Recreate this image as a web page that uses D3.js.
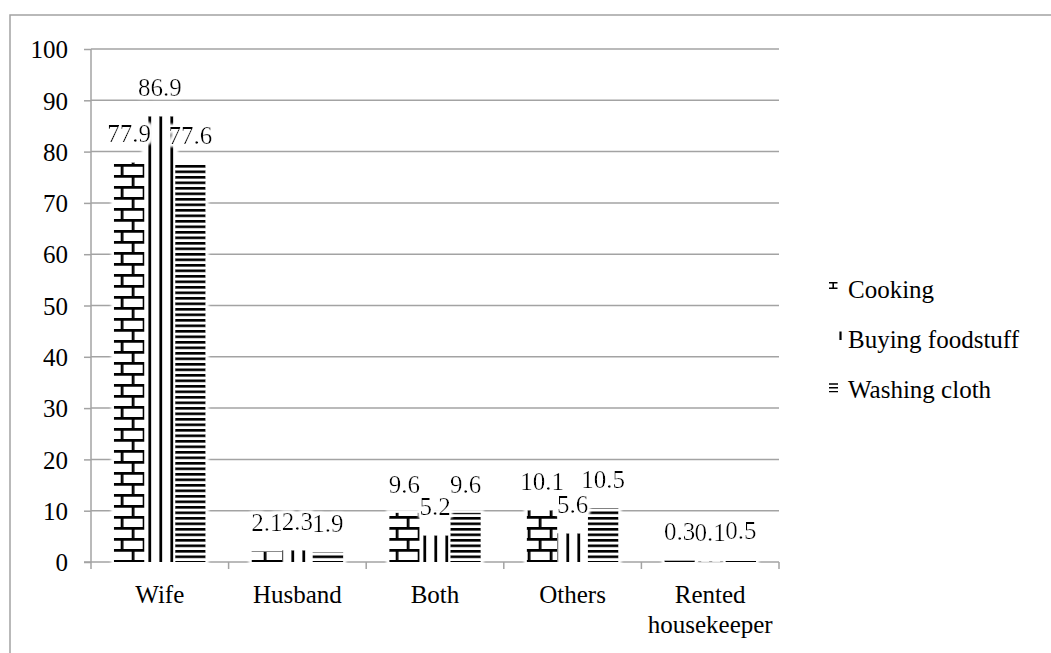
<!DOCTYPE html>
<html>
<head>
<meta charset="utf-8">
<script src="https://cdn.jsdelivr.net/npm/d3@7/dist/d3.min.js"></script>
</head>
<body style="margin:0">
<svg id="chart" width="1051" height="653" font-family="Liberation Serif" style="display:block;font-family:'Liberation Serif'"></svg>
<script>
// Who does the household chores (%)
const categories = ["Wife", "Husband", "Both", "Others", "Rented housekeeper"];
const categoryLines = [["Wife"], ["Husband"], ["Both"], ["Others"], ["Rented", "housekeeper"]];
const seriesNames = ["Cooking", "Buying foodstuff", "Washing cloth"];
const cooking = [77.9, 2.1, 9.6, 10.1, 0.3];
const buying = [86.9, 2.3, 5.2, 5.6, 0.1];
const washing = [77.6, 1.9, 9.6, 10.5, 0.5];
const yTicks = [0, 10, 20, 30, 40, 50, 60, 70, 80, 90, 100];

const seriesValues = [cooking, buying, washing];
const patternIds = ["pat-brick", "pat-vert", "pat-horz"];

const FONT = 25;
const GRID = "#a3a3a3";
const svg = d3.select("#chart");

function serif(sel) {
  return sel.attr("font-family", "Liberation Serif")
    .style("font-family", "'Liberation Serif'")
    .attr("font-size", FONT)
    .attr("fill", "#000");
}

// Outer chart frame (runs off the right and bottom edges)
svg.append("rect")
  .attr("x", 10).attr("y", 15)
  .attr("width", 1100).attr("height", 700)
  .attr("fill", "none").attr("stroke", GRID).attr("stroke-width", 1.5);

const defs = svg.append("defs");

// Brick pattern: 2.75px lines, 22 x 11 bricks
const brick = defs.append("pattern")
  .attr("id", "pat-brick").attr("patternUnits", "userSpaceOnUse")
  .attr("width", 22).attr("height", 22)
  .attr("patternTransform", "translate(-0.3,-1)");
brick.append("rect").attr("width", 22).attr("height", 22).attr("fill", "#fff");
brick.append("rect").attr("x", 0).attr("y", 0).attr("width", 22).attr("height", 2.75).attr("fill", "#000");
brick.append("rect").attr("x", 0).attr("y", 11).attr("width", 22).attr("height", 2.75).attr("fill", "#000");
brick.append("rect").attr("x", 0).attr("y", 0).attr("width", 2.75).attr("height", 11).attr("fill", "#000");
brick.append("rect").attr("x", 11).attr("y", 11).attr("width", 2.75).attr("height", 11).attr("fill", "#000");

// Vertical lines, 11px period
const vert = defs.append("pattern")
  .attr("id", "pat-vert").attr("patternUnits", "userSpaceOnUse")
  .attr("width", 11).attr("height", 11);
vert.append("rect").attr("width", 11).attr("height", 11).attr("fill", "#fff");
vert.append("rect").attr("x", 5.4).attr("y", 0).attr("width", 2.75).attr("height", 11).attr("fill", "#000");

// Narrow horizontal lines, 5.5px period
const horz = defs.append("pattern")
  .attr("id", "pat-horz").attr("patternUnits", "userSpaceOnUse")
  .attr("width", 11).attr("height", 5.5);
horz.append("rect").attr("width", 11).attr("height", 5.5).attr("fill", "#fff");
horz.append("rect").attr("x", 0).attr("y", 0).attr("width", 11).attr("height", 2.6).attr("fill", "#000");

// Soft white glow around bars and value labels
const glow = defs.append("filter").attr("id", "glow")
  .attr("x", "-30%").attr("y", "-30%").attr("width", "160%").attr("height", "160%");
glow.append("feMorphology").attr("in", "SourceAlpha").attr("operator", "dilate").attr("radius", 2.5).attr("result", "d");
glow.append("feGaussianBlur").attr("in", "d").attr("stdDeviation", 1.2).attr("result", "b");
glow.append("feFlood").attr("flood-color", "#fff").attr("result", "w");
glow.append("feComposite").attr("in", "w").attr("in2", "b").attr("operator", "in").attr("result", "g");
const merge = glow.append("feMerge");
merge.append("feMergeNode").attr("in", "g");
merge.append("feMergeNode").attr("in", "SourceGraphic");

// Scales
const x0 = d3.scaleBand().domain(categories).range([91, 779]).paddingInner(0).paddingOuter(0);
const x1 = d3.scaleBand().domain(seriesNames).range([0, x0.bandwidth()]).paddingInner(0).paddingOuter(0.75);
const y = d3.scaleLinear().domain([0, 100]).range([562, 49]);

// Gridlines
svg.append("g").selectAll("line").data(yTicks.filter(d => d > 0)).join("line")
  .attr("x1", 91).attr("x2", 779)
  .attr("y1", d => y(d)).attr("y2", d => y(d))
  .attr("stroke", GRID).attr("stroke-width", 1.5);

// Y axis
const yAxis = svg.append("g").attr("transform", "translate(91,0)")
  .call(d3.axisLeft(y).tickValues(yTicks).tickSize(7).tickPadding(16).tickFormat(d3.format("d")));
yAxis.attr("font-family", "Liberation Serif").attr("font-size", FONT);
yAxis.selectAll("path, line").attr("stroke", GRID).attr("stroke-width", 1.5);
yAxis.select(".domain").attr("d", `M0,${y(0)}V${y(100)}`);
serif(yAxis.selectAll("text")).attr("dy", "0.35em");

// X axis
const xAxis = svg.append("g").attr("transform", `translate(0,${y(0)})`);
xAxis.append("line").attr("x1", 84).attr("x2", 779).attr("y1", 0).attr("y2", 0)
  .attr("stroke", GRID).attr("stroke-width", 1.5);
const bounds = categories.map(c => x0(c)).concat([x0(categories[categories.length - 1]) + x0.bandwidth()]);
xAxis.selectAll("line.tick").data(bounds).join("line").attr("class", "tick")
  .attr("x1", d => d).attr("x2", d => d).attr("y1", 0).attr("y2", 7)
  .attr("stroke", GRID).attr("stroke-width", 1.5);
const catText = serif(xAxis.selectAll("text.cat").data(categories).join("text").attr("class", "cat"))
  .attr("text-anchor", "middle")
  .attr("x", d => x0(d) + x0.bandwidth() / 2).attr("y", 41);
catText.each(function (d, i) {
  d3.select(this).selectAll("tspan").data(categoryLines[i]).join("tspan")
    .attr("x", x0(d) + x0.bandwidth() / 2)
    .attr("dy", (t, j) => j === 0 ? 0 : 30)
    .text(t => t);
});

// Bars
const rows = categories.map((c, ci) => seriesNames.map((s, si) => ({ c, s, si, v: seriesValues[si][ci] }))).flat();

svg.append("g").attr("filter", "url(#glow)")
  .selectAll("rect").data(rows).join("rect")
  .attr("x", d => x0(d.c) + x1(d.s))
  .attr("y", d => y(d.v))
  .attr("width", x1.bandwidth())
  .attr("height", d => y(0) - y(d.v))
  .attr("fill", d => `url(#${patternIds[d.si]})`);

// Value labels
serif(svg.append("g").attr("filter", "url(#glow)")
  .selectAll("text").data(rows).join("text"))
  .attr("text-anchor", "middle")
  .attr("x", d => x0(d.c) + x1(d.s) + x1.bandwidth() / 2)
  .attr("y", d => y(d.v) - 20)
  .text(d => d.v);

// Legend
const legend = svg.append("g");
const legendY = [298, 348, 398];
serif(legend.selectAll("text").data(seriesNames).join("text"))
  .attr("x", 848).attr("y", (d, i) => legendY[i])
  .text(d => d);

const sw = legend.append("g").attr("stroke", "#000").attr("fill", "none");
// Cooking swatch
sw.append("path").attr("stroke-width", 1.6)
  .attr("d", "M829,282.8H837.5M833.2,282.8V288.2M829,288.2H837.5");
// Buying foodstuff swatch
sw.append("path").attr("stroke-width", 2.2).attr("d", "M840.5,331.5V340");
// Washing cloth swatch
sw.append("path").attr("stroke-width", 1.4)
  .attr("d", "M829,384H838M829,387.8H838M829,391.6H838");
</script>
</body>
</html>
